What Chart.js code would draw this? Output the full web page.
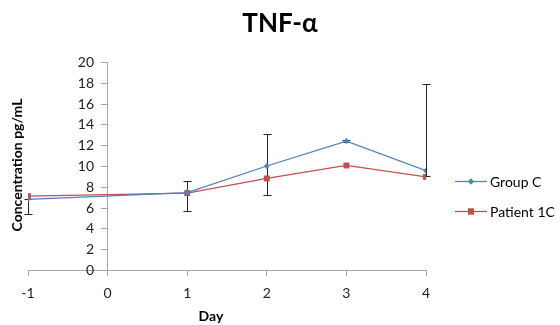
<!DOCTYPE html>
<html>
<head>
<meta charset="utf-8">
<script src="https://cdn.jsdelivr.net/npm/chart.js@4.4.1/dist/chart.umd.min.js"></script>
<style>
  html, body { margin: 0; padding: 0; background: #fff; }
  #wrap { width: 560px; height: 325px; position: relative; }
</style>
</head>
<body>
<div id="wrap"><canvas id="chart"></canvas></div>
<script>
// data
const days = [-1, 1, 2, 3, 4];
const groupC = [6.8, 7.45, 10.0, 12.4, 9.55];
const patient1C = [7.1, 7.4, 8.8, 10.05, 8.95];
// error bar ends for Group C
const groupCHigh = [6.8, 8.6, 13.1, 12.5, 17.85];
const groupCLow = [5.4, 5.7, 7.2, 12.3, 9.0];
const xTicks = [-1, 0, 1, 2, 3, 4];
const yTicks = [0, 2, 4, 6, 8, 10, 12, 14, 16, 18, 20];

const FONT = "Lato, 'Open Sans', sans-serif";
const blue = '#4f81bd';
const red = '#c0504d';
const axisGray = '#a6a6a6';

// error bars, drawn under the markers
const errorBars = {
    id: 'errorBars',
    beforeDatasetsDraw(chart) {
        const ctx = chart.ctx;
        const xs = chart.scales.x, ys = chart.scales.y;
        ctx.save();
        ctx.strokeStyle = '#262626';
        ctx.lineWidth = 1;
        days.forEach((d, i) => {
            const x = Math.round(xs.getPixelForValue(d)) + 0.5;
            const yHi = Math.round(ys.getPixelForValue(groupCHigh[i])) + 0.5;
            const yLo = Math.round(ys.getPixelForValue(groupCLow[i])) + 0.5;
            ctx.beginPath();
            ctx.moveTo(x, yHi); ctx.lineTo(x, yLo);
            ctx.moveTo(x - 4, yHi); ctx.lineTo(x + 4, yHi);
            ctx.moveTo(x - 4, yLo); ctx.lineTo(x + 4, yLo);
            ctx.stroke();
        });
        ctx.restore();
    }
};

// y axis sits at day 0, so its ticks and labels are placed by hand from the scales
const yAxisLabels = {
    id: 'yAxisLabels',
    afterDraw(chart) {
        const ctx = chart.ctx;
        const ax = Math.round(chart.scales.x.getPixelForValue(0));
        const ys = chart.scales.y;
        ctx.save();
        ctx.strokeStyle = axisGray;
        ctx.lineWidth = 1;
        ctx.fillStyle = '#222';
        ctx.font = '14px ' + FONT;
        ctx.textAlign = 'right';
        ctx.textBaseline = 'middle';
        yTicks.forEach(v => {
            const y = Math.round(ys.getPixelForValue(v)) + 0.5;
            ctx.beginPath();
            ctx.moveTo(ax - 7, y);
            ctx.lineTo(ax, y);
            ctx.stroke();
            ctx.fillText(String(v), ax - 14, y);
        });
        ctx.restore();
    }
};

// titles and legend, placed where the reference has them
const labels = {
    id: 'labels',
    afterDraw(chart) {
        const ctx = chart.ctx;
        ctx.save();
        ctx.fillStyle = '#000';
        ctx.textAlign = 'center';
        ctx.textBaseline = 'middle';
        ctx.font = 'bold 26px ' + FONT;
        ctx.fillText('TNF-α', 280, 24);

        ctx.font = 'bold 14px ' + FONT;
        ctx.fillText('Day', 211, 316);

        ctx.save();
        ctx.translate(17, 165);
        ctx.rotate(-Math.PI / 2);
        ctx.fillText('Concentration pg/mL', 0, 0);
        ctx.restore();

        // legend
        const items = [
            { text: 'Group C', color: blue, style: 'rectRot', r: 3, y: 181 },
            { text: 'Patient 1C', color: red, style: 'rect', r: 4.2, y: 211 }
        ];
        ctx.font = '14px ' + FONT;
        ctx.textAlign = 'left';
        items.forEach(it => {
            ctx.strokeStyle = it.color;
            ctx.lineWidth = 1.25;
            ctx.beginPath();
            ctx.moveTo(455, it.y + 0.5);
            ctx.lineTo(487, it.y + 0.5);
            ctx.stroke();
            ctx.fillStyle = it.color;
            Chart.helpers.drawPoint(ctx, { pointStyle: it.style, radius: it.r, borderWidth: 0 }, 471, it.y + 0.5);
            ctx.fill();
            ctx.fillStyle = '#000';
            ctx.fillText(it.text, 490, it.y + 1);
        });
        ctx.restore();
    }
};

new Chart(document.getElementById('chart'), {
    type: 'line',
    data: {
        datasets: [{
            label: 'Group C',
            data: days.map((d, i) => ({ x: d, y: groupC[i] })),
            borderColor: blue,
            backgroundColor: blue,
            borderWidth: 1.25,
            pointStyle: 'rectRot',
            pointRadius: 3,
            pointBorderWidth: 0,
            tension: 0
        }, {
            label: 'Patient 1C',
            data: days.map((d, i) => ({ x: d, y: patient1C[i] })),
            borderColor: red,
            backgroundColor: red,
            borderWidth: 1.25,
            pointStyle: 'rect',
            pointRadius: 4.2,
            pointBorderWidth: 0,
            tension: 0
        }]
    },
    options: {
        responsive: true,
        maintainAspectRatio: false,
        animation: false,
        layout: { padding: { left: 28, right: 134, top: 62, bottom: 0 } },
        plugins: {
            legend: { display: false },
            title: { display: false },
            tooltip: { enabled: false }
        },
        scales: {
            x: {
                type: 'linear',
                position: 'bottom',
                min: -1,
                max: 4,
                afterBuildTicks: s => { s.ticks = xTicks.map(v => ({ value: v })); },
                afterFit: s => { s.height = 55; },
                border: { display: true, color: axisGray, width: 1 },
                grid: { drawOnChartArea: false, drawTicks: true, tickLength: 6, color: axisGray },
                ticks: { color: '#222', font: { family: FONT, size: 14 }, padding: 9, maxRotation: 0 }
            },
            y: {
                position: { x: 0 },
                min: 0,
                max: 20,
                afterBuildTicks: s => { s.ticks = yTicks.map(v => ({ value: v })); },
                border: { display: true, color: axisGray, width: 1 },
                grid: { drawOnChartArea: false, drawTicks: false },
                ticks: { display: false }
            }
        }
    },
    plugins: [errorBars, yAxisLabels, labels]
});
</script>
</body>
</html>
